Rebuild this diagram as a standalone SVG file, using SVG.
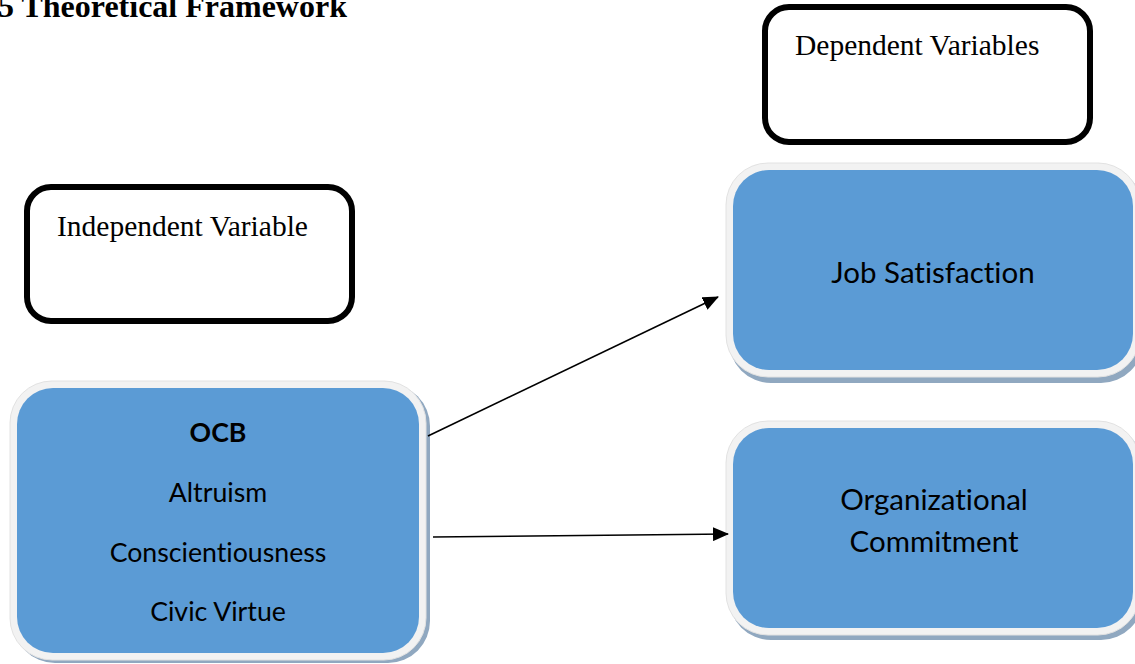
<svg xmlns="http://www.w3.org/2000/svg" width="1135" height="664" viewBox="0 0 1135 664">
  <style>
    .serif { font-family: "Liberation Serif", "Times New Roman", serif; fill: #000; }
    .sans { font-family: Lato, "Open Sans", "Liberation Sans", sans-serif; fill: #000; font-size: 26.7px; text-anchor: middle; font-variant-ligatures: none; }
    .big { font-size: 29.5px; }
    .label { fill: #fff; stroke: #000; stroke-width: 6; }
    .shadow { fill: #90A8C0; }
    .rim { fill: #F2F2F2; stroke: #E2E2E2; stroke-width: 1; }
    .blue { fill: #5B9BD5; }
    .conn { stroke: #000; stroke-width: 1.6; fill: none; marker-end: url(#arrow); }
  </style>
  <defs>
    <marker id="arrow" markerWidth="16" markerHeight="14" refX="15" refY="7" orient="auto" markerUnits="userSpaceOnUse">
      <path d="M0,0 L16,7 L0,14 Z" fill="#000"/>
    </marker>
  </defs>
  <rect width="1135" height="664" fill="#fff"/>

  <g id="title">
    <text class="serif" x="-2" y="17" font-size="32" font-weight="bold">5 Theoretical Framework</text>
  </g>

  <g id="dependent-label">
    <rect class="label" x="765" y="7" width="325" height="135" rx="24"/>
    <text class="serif" x="795" y="55" font-size="29.5">Dependent Variables</text>
  </g>

  <g id="independent-label">
    <rect class="label" x="27" y="187" width="325" height="134" rx="24"/>
    <text class="serif" x="57" y="236" font-size="29.5">Independent Variable</text>
  </g>

  <g id="ocb">
    <rect class="shadow" x="13" y="384" width="417" height="279" rx="42"/>
    <rect class="rim" x="10" y="381" width="416" height="279" rx="42"/>
    <rect class="blue" x="17" y="388" width="402" height="265" rx="36"/>
    <text class="sans" x="218" y="442" font-weight="bold">OCB</text>
    <text class="sans" x="218" y="502">Altruism</text>
    <text class="sans" x="218" y="562">Conscientiousness</text>
    <text class="sans" x="218" y="621">Civic Virtue</text>
  </g>

  <g id="job-satisfaction">
    <rect class="shadow" x="729" y="167" width="414" height="216" rx="42"/>
    <rect class="rim" x="726" y="163" width="414" height="214" rx="42"/>
    <rect class="blue" x="733" y="170" width="400" height="200" rx="36"/>
    <text class="sans big" x="933" y="283">Job Satisfaction</text>
  </g>

  <g id="organizational-commitment">
    <rect class="shadow" x="729" y="425" width="414" height="215" rx="42"/>
    <rect class="rim" x="726" y="421" width="414" height="214" rx="42"/>
    <rect class="blue" x="733" y="428" width="400" height="200" rx="36"/>
    <text class="sans big" x="934" y="510">Organizational</text>
    <text class="sans big" x="934" y="552">Commitment</text>
  </g>

  <g id="connectors">
    <line class="conn" x1="428" y1="436" x2="718" y2="297"/>
    <line class="conn" x1="433" y1="537" x2="728" y2="534"/>
  </g>
</svg>
